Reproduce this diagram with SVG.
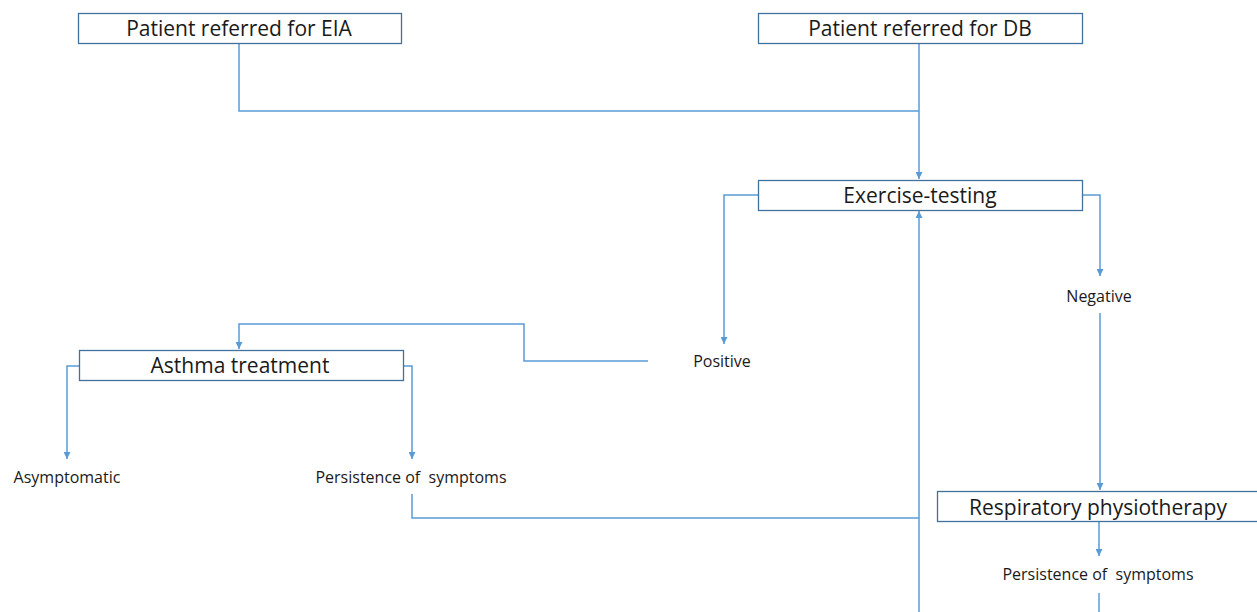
<svg xmlns="http://www.w3.org/2000/svg" width="1257" height="612" viewBox="0 0 1257 612">
<defs>
<style>
.box{fill:#fff;stroke:#41719c;stroke-width:1.3}
.big{font-family:"Open Sans","Liberation Sans",sans-serif;font-size:21px;fill:#1a1a1a;text-anchor:middle}
.sm{font-family:"Open Sans","Liberation Sans",sans-serif;font-size:16px;fill:#1a1a1a;text-anchor:middle;white-space:pre}
.ln{fill:none;stroke:#5b9bd5;stroke-width:1.5}
</style>
<marker id="ah" viewBox="0 0 10 10" refX="10" refY="5" markerWidth="7" markerHeight="7" markerUnits="userSpaceOnUse" orient="auto">
<path d="M0,0 L10,5 L0,10 z" fill="#5b9bd5"/>
</marker>
</defs>
<rect width="1257" height="612" fill="#fff"/>
<g id="connectors">
<path class="ln" d="M239,43 V111 H919"/>
<path class="ln" d="M919,43 V179" marker-end="url(#ah)"/>
<path class="ln" d="M758,195 H724 V344" marker-end="url(#ah)"/>
<path class="ln" d="M1082,195 H1100 V276" marker-end="url(#ah)"/>
<path class="ln" d="M1100,313 V490" marker-end="url(#ah)"/>
<path class="ln" d="M1099,522 V556" marker-end="url(#ah)"/>
<path class="ln" d="M1099,593 V612"/>
<path class="ln" d="M648,361 H524 V324 H239 V349" marker-end="url(#ah)"/>
<path class="ln" d="M79,366 H67 V459" marker-end="url(#ah)"/>
<path class="ln" d="M403,366 H412 V459" marker-end="url(#ah)"/>
<path class="ln" d="M412,494 V518 H919"/>
<path class="ln" d="M919,612 V211" marker-end="url(#ah)"/>
</g>
<g id="eia"><rect class="box" x="78.5" y="13.5" width="323" height="30"/><text class="big" x="239" y="36">Patient referred for EIA</text></g>
<g id="db"><rect class="box" x="758.5" y="13.5" width="324" height="30"/><text class="big" x="920" y="36">Patient referred for DB</text></g>
<g id="exercise"><rect class="box" x="758.5" y="180.5" width="324" height="30"/><text class="big" x="920" y="203">Exercise-testing</text></g>
<g id="asthma"><rect class="box" x="79.5" y="350.5" width="324" height="30"/><text class="big" x="240" y="373">Asthma treatment</text></g>
<g id="resp"><rect class="box" x="937.5" y="491.5" width="322" height="30"/><text class="big" x="1098" y="515">Respiratory physiotherapy</text></g>
<g id="positive"><text class="sm" x="722" y="367">Positive</text></g>
<g id="negative"><text class="sm" x="1099" y="302">Negative</text></g>
<g id="asymptomatic"><text class="sm" x="67" y="483">Asymptomatic</text></g>
<g id="persist1"><text class="sm" x="411" y="483" xml:space="preserve">Persistence of  symptoms</text></g>
<g id="persist2"><text class="sm" x="1098" y="580" xml:space="preserve">Persistence of  symptoms</text></g>
</svg>
